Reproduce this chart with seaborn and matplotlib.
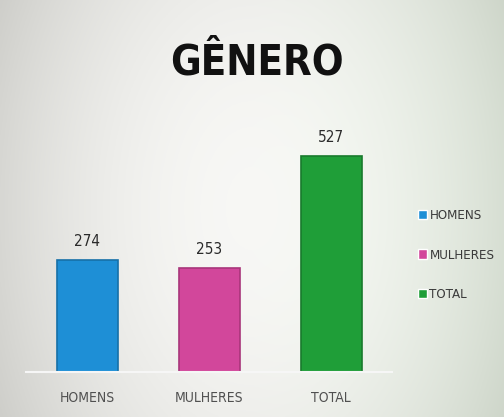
import numpy as np
import pandas as pd
import matplotlib
matplotlib.use("Agg")
import matplotlib.pyplot as plt
import seaborn as sns
from matplotlib.patches import Patch

# --- Data ---
categories = ["HOMENS", "MULHERES", "TOTAL"]
values = [274, 253, 527]
colors = ["#1e8fd6", "#d2479b", "#1f9e38"]
edge_colors = ["#1670a8", "#a8357a", "#187a2c"]
title = "GÊNERO"

sns.set_style("white")
plt.rcParams["font.family"] = ["DejaVu Sans"]
plt.rcParams["font.stretch"] = "condensed"

df = pd.DataFrame({"categoria": categories, "valor": values})

fig = plt.figure(figsize=(5.04, 4.17), dpi=100)

# soft grey backdrop, lighter in the middle, slightly greenish on the right
bg = fig.add_axes([0, 0, 1, 1], zorder=-1)
xx = np.linspace(-1, 1, 300)
yy = np.linspace(-1, 1, 250)
X, Y = np.meshgrid(xx, yy)
light = 1 - 0.55 * (X ** 2) - 0.15 * (Y ** 2)
img = np.zeros((250, 300, 3))
base = np.array([0.74, 0.74, 0.72])
top = np.array([0.97, 0.97, 0.96])
for c in range(3):
    img[..., c] = base[c] + (top[c] - base[c]) * np.clip(light, 0, 1)
img[..., 1] += 0.03 * np.clip(X, 0, 1)
img = np.clip(img, 0, 1)
bg.imshow(img, aspect="auto", extent=[0, 1, 0, 1])
bg.axis("off")

ax = fig.add_axes([0.052, 0.108, 0.726, 0.59])
ax.patch.set_alpha(0)
sns.barplot(data=df, x="categoria", y="valor", hue="categoria", palette=colors,
            width=0.5, legend=False, ax=ax, saturation=1)
for bar, ec in zip(ax.patches, edge_colors):
    bar.set_edgecolor(ec)
    bar.set_linewidth(1.2)

for i, v in enumerate(values):
    ax.text(i, v + 27, str(v), ha="center", va="bottom", fontsize=11, color="#2a2a2a")

ax.set_xlim(-0.5, 2.5)
ax.set_ylim(0, 600)
ax.set_xlabel("")
ax.set_ylabel("")
ax.set_yticks([])
ax.tick_params(axis="x", length=0, labelsize=10, labelcolor="#505050", pad=14)
for s in ["top", "right", "left"]:
    ax.spines[s].set_visible(False)
ax.spines["bottom"].set_color("#f6f6f6")
ax.spines["bottom"].set_linewidth(1.5)

fig.text(0.509, 0.822, title, ha="center", va="baseline", fontsize=30,
         fontweight="bold", color="#111111")

handles = [Patch(facecolor=c, label=l) for c, l in zip(colors, categories)]
fig.legend(handles=handles, loc="center left", bbox_to_anchor=(0.805, 0.388),
           frameon=False, fontsize=9.5, labelspacing=2.0, handlelength=0.7,
           handleheight=0.7, handletextpad=0.2, labelcolor="#3a3a3a")

fig.savefig("out.png", dpi=100)
